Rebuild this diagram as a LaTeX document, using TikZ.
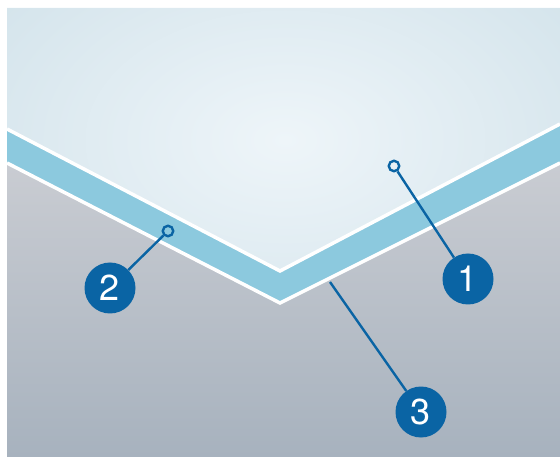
\documentclass[tikz,border=0pt]{standalone}
\usepackage{fontspec}
\setmainfont{TeX Gyre Heros}
\definecolor{darkblue}{HTML}{0A64A4}
\definecolor{bandblue}{HTML}{8CC9DE}
\definecolor{toplight}{HTML}{D1E2EA}
\definecolor{topcenter}{HTML}{EEF5F9}
\definecolor{graytop}{HTML}{C9CCD2}
\definecolor{graybot}{HTML}{A7B2BE}
\tikzset{
  badge/.style={circle, fill=darkblue, minimum size=51pt, inner sep=0pt, text=white, font=\fontsize{36}{36}\selectfont},
  pin/.style={circle, draw=darkblue, line width=2.4pt, minimum size=10.5pt, inner sep=0pt},
  leader/.style={draw=darkblue, line width=2.4pt},
  edge/.style={draw=white, line width=3.5pt}
}
\begin{document}
\begin{tikzpicture}[x=1pt,y=-1pt]
\useasboundingbox (0,0) rectangle (560,457);
% gray background
\shade[top color=graytop, bottom color=graybot] (7,165) rectangle (560,457);
\fill[graytop] (7,8) rectangle (560,170);
% band
\fill[bandblue] (7,129) -- (280,271) -- (560,124) -- (560,163) -- (280,303) -- (7,163) -- cycle;
% top light region
\begin{scope}
\clip (7,8) -- (560,8) -- (560,124) -- (280,271) -- (7,129) -- cycle;
\fill[toplight] (7,8) rectangle (560,280);
\shade[inner color=topcenter, outer color=toplight] (285,140) ellipse (400pt and 260pt);
\end{scope}
% white edges
\draw[edge] (7,129) -- (280,271) -- (560,124);
\draw[edge] (7,163) -- (280,303) -- (560,163);
% badges
\node[badge] (c1) at (468,279) {1};
\node[badge] (c2) at (110,288) {2};
\node[badge] (c3) at (421,412) {3};
\node[pin] (s1) at (394,166) {};
\node[pin] (s2) at (168,231) {};
\coordinate (p3) at (330,282);
\draw[leader] (s1) -- (c1);
\draw[leader] (s2) -- (c2);
\draw[leader] (p3) -- (c3);
\end{tikzpicture}
\end{document}
